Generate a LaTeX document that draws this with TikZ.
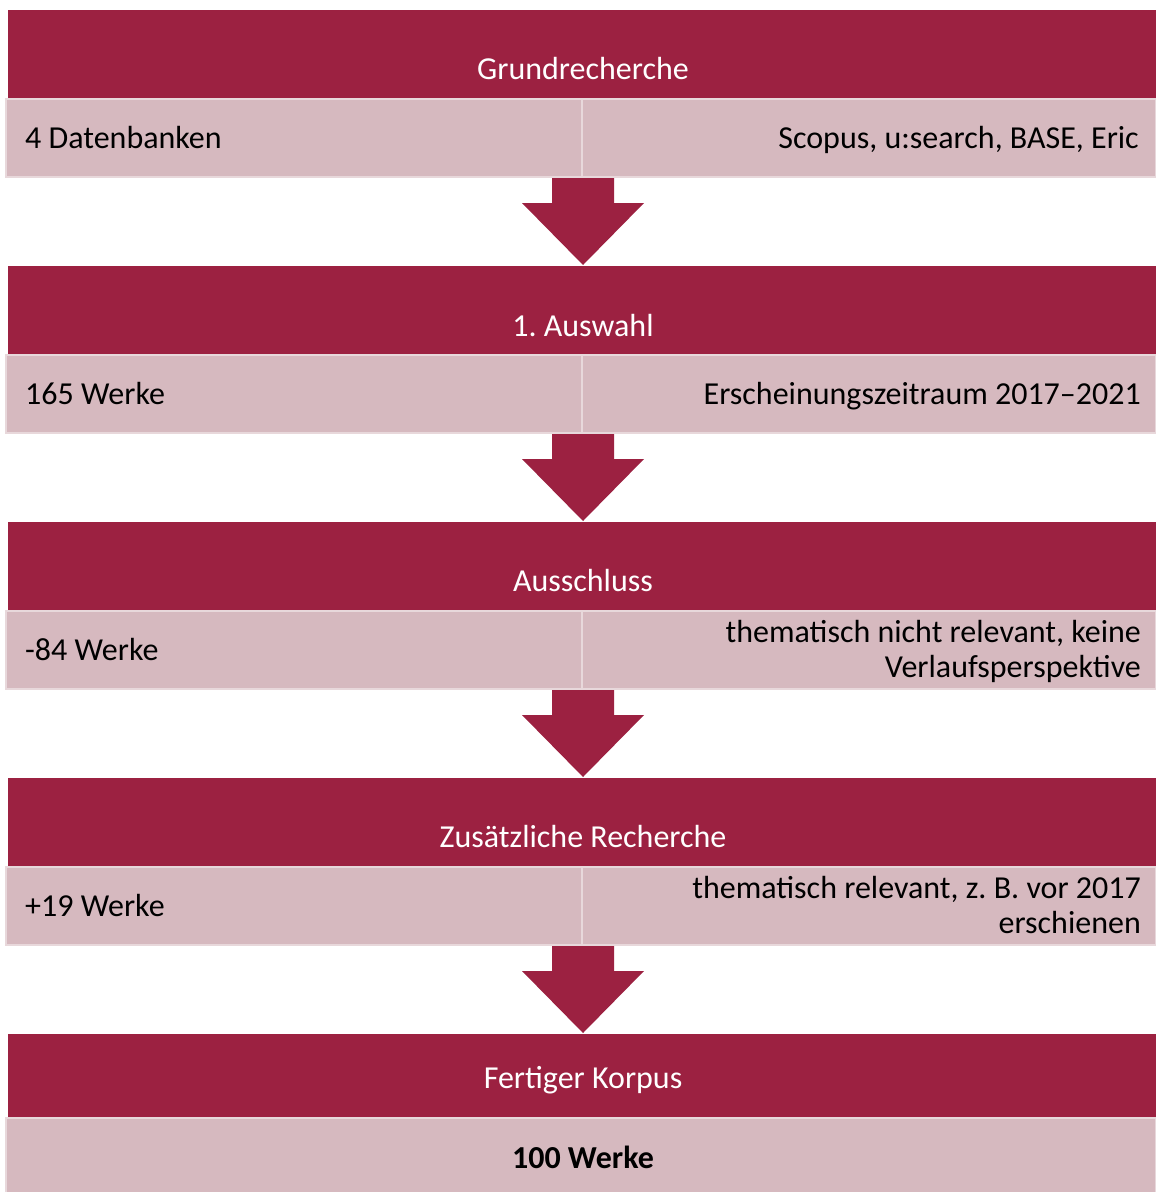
\documentclass[tikz,border=0pt]{standalone}
\usepackage{fontspec}
\setmainfont{Carlito}
\frenchspacing
\definecolor{hdr}{HTML}{9C2141}
\definecolor{lite}{HTML}{D6B9BF}
\definecolor{sep}{HTML}{E8D8DB}
\tikzset{
  hdrbox/.style={fill=hdr, draw=none, minimum width=1148pt, minimum height=89pt, anchor=north west, inner sep=0pt, outer sep=0pt},
  cellbox/.style={fill=lite, draw=sep, line width=2pt, minimum height=78pt, anchor=north west, inner sep=0pt, outer sep=0pt},
  hdrtext/.style={text=white, font=\fontsize{32}{35}\selectfont, inner sep=0pt, anchor=base},
  lefttext/.style={font=\fontsize{32}{35}\selectfont, inner sep=0pt, anchor=base west},
  righttext/.style={font=\fontsize{32}{35}\selectfont, inner sep=0pt, anchor=base east, align=right},
  blockarrow/.style={fill=hdr, draw=none}
}
\begin{document}
\begin{tikzpicture}[x=1pt,y=-1pt]
\useasboundingbox (0,0) rectangle (1156,1192);
\begin{scope}
\clip (0,0) rectangle (1156,1192);
% arrows (drawn first)
\foreach \t/\n in {10/a0,266/a1,522/a2,778/a3}{
  \fill[blockarrow] (552,\t+167) -- (614,\t+167) -- (614,\t+193) -- (644,\t+193)
    -- (583,\t+255) -- (522,\t+193) -- (552,\t+193) -- cycle;
}
% block 0
\node[hdrbox] (h0) at (8,10) {};
\node[hdrtext] (t0) at (583,79) {Grundrecherche};
\node[cellbox, minimum width=576pt] (l0) at (6,99) {};
\node[cellbox, minimum width=574pt] (r0) at (582,99) {};
\node[lefttext] (lt0) at (25,148) {4 Datenbanken};
\node[righttext] (rt0) at (1139,148) {Scopus, u:search, BASE, Eric};
% block 1
\node[hdrbox] (h1) at (8,266) {};
\node[hdrtext] (t1) at (583,336) {1. Auswahl};
\node[cellbox, minimum width=576pt] (l1) at (6,355) {};
\node[cellbox, minimum width=574pt] (r1) at (582,355) {};
\node[lefttext] (lt1) at (25,404) {165 Werke};
\node[righttext] (rt1) at (1141,404) {Erscheinungszeitraum 2017--2021};
% block 2
\node[hdrbox] (h2) at (8,522) {};
\node[hdrtext] (t2) at (583,591) {Ausschluss};
\node[cellbox, minimum width=576pt] (l2) at (6,611) {};
\node[cellbox, minimum width=574pt] (r2) at (582,611) {};
\node[lefttext] (lt2) at (25,660) {-84 Werke};
\node[righttext] (rt2) at (1141,677) {thematisch nicht relevant, keine\\Verlaufsperspektive};
% block 3
\node[hdrbox] (h3) at (8,778) {};
\node[hdrtext] (t3) at (583,847) {Zusätzliche Recherche};
\node[cellbox, minimum width=576pt] (l3) at (6,867) {};
\node[cellbox, minimum width=574pt] (r3) at (582,867) {};
\node[lefttext] (lt3) at (25,916) {+19 Werke};
\node[righttext] (rt3) at (1141,933) {thematisch relevant, z. B. vor 2017\\erschienen};
% block 4
\node[hdrbox, minimum height=84pt] (h4) at (8,1034) {};
\node[hdrtext] (t4) at (583,1088) {Fertiger Korpus};
\node[cellbox, minimum width=1150pt, minimum height=80pt] (l4) at (6,1118) {};
\node[hdrtext, text=black, font=\fontsize{32}{35}\selectfont\bfseries] (lt4) at (583,1168) {100 Werke};
\end{scope}
\end{tikzpicture}
\end{document}
